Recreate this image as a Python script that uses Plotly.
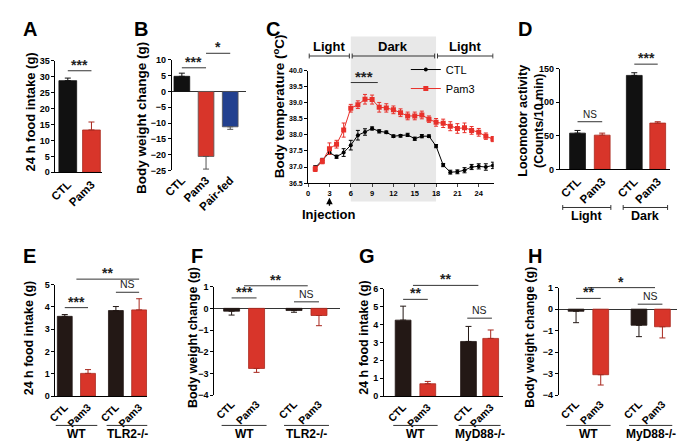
import plotly.graph_objects as go

W, H = 685, 441

# ---------------- DATA ----------------
# A: 24 h food intake (g)
a_groups = ["CTL", "Pam3"]
a_mean = [28.8, 13.3]
a_err = [0.8, 2.5]

# B: body weight change (g)
b_groups = ["CTL", "Pam3", "Pair-fed"]
b_mean = [4.8, -20.6, -11.2]
b_err = [1.0, 4.0, 0.8]

# C: body temperature (deg C) by hour
c_hours = list(range(1, 27))
c_ctl = [36.98, 37.2, 37.45, 37.32, 37.45, 37.68, 37.99, 38.09, 38.2, 38.11,
         38.08, 37.96, 37.97, 38.0, 37.88, 37.96, 37.96, 37.65, 37.06, 36.84,
         36.85, 36.9, 37.0, 37.02, 37.0, 37.05]
c_ctl_err = [0.06, 0.07, 0.06, 0.05, 0.12, 0.15, 0.15, 0.1, 0.05, 0.05,
             0.04, 0.04, 0.04, 0.05, 0.05, 0.05, 0.04, 0.05, 0.05, 0.06,
             0.06, 0.08, 0.08, 0.08, 0.1, 0.1]
c_pam3 = [36.94, 37.18, 37.57, 37.71, 38.15, 38.83, 38.94, 39.11, 39.1, 38.86,
          38.84, 38.78, 38.69, 38.59, 38.59, 38.62, 38.49, 38.39, 38.36, 38.27,
          38.2, 38.22, 38.14, 38.08, 37.96, 37.87]
c_pam3_err = [0.08, 0.08, 0.18, 0.12, 0.22, 0.12, 0.12, 0.15, 0.14, 0.15,
              0.13, 0.12, 0.12, 0.12, 0.12, 0.12, 0.1, 0.12, 0.13, 0.14,
              0.15, 0.15, 0.12, 0.12, 0.1, 0.08]

# D: locomotor activity (counts/10 min)
d_groups = ["CTL", "Pam3", "CTL", "Pam3"]
d_phase = ["Light", "Dark"]
d_mean = [54, 51, 140, 69]
d_err = [4, 3, 4, 2]

# E: 24 h food intake, WT vs TLR2-/-
e_groups = ["CTL", "Pam3", "CTL", "Pam3"]
e_geno = ["WT", "TLR2-/-"]
e_mean = [3.58, 1.02, 3.84, 3.87]
e_err = [0.08, 0.17, 0.18, 0.5]

# F: body weight change, WT vs TLR2-/-
f_groups = ["CTL", "Pam3", "CTL", "Pam3"]
f_geno = ["WT", "TLR2-/-"]
f_mean = [-0.13, -2.77, -0.1, -0.33]
f_err = [0.18, 0.18, 0.08, 0.47]

# G: 24 h food intake, WT vs MyD88-/-
g_groups = ["CTL", "Pam3", "CTL", "Pam3"]
g_geno = ["WT", "MyD88-/-"]
g_mean = [4.24, 0.69, 3.05, 3.22]
g_err = [0.78, 0.13, 0.84, 0.47]

# H: body weight change, WT vs MyD88-/-
h_groups = ["CTL", "Pam3", "CTL", "Pam3"]
h_geno = ["WT", "MyD88-/-"]
h_mean = [-0.1, -3.05, -0.75, -0.82]
h_err = [0.53, 0.48, 0.53, 0.52]

# ---------------- STYLE ----------------
FONT = "Liberation Sans, Arial, sans-serif"
BLACK = "#111111"
DARK = "#231815"
RED = "#d8352a"
REDL = "#a8281e"
BLUE = "#22408f"
CRED = "#e8302a"


def xd(l, r):
    return [l / W, r / W]


def yd(top, bot):
    return [1 - bot / H, 1 - top / H]


def pxx(x):
    return x / W


def pxy(y):
    return 1 - y / H


fig = go.Figure()
shapes = []
annotations = []


def ref(i):
    return ("x" if i == 1 else f"x{i}"), ("y" if i == 1 else f"y{i}")


def add_bars(i, pos, means, errs, colors, linecols, width):
    xr, yr = ref(i)
    for p, m, e, c, lc in zip(pos, means, errs, colors, linecols):
        fig.add_trace(go.Bar(
            x=[p], y=[m], width=width, marker=dict(color=c, line=dict(color=lc, width=0.8)),
            error_y=dict(type="data", symmetric=False,
                         array=[e if m >= 0 else 0], arrayminus=[e if m < 0 else 0],
                         color=lc, thickness=1, width=3),
            xaxis=xr, yaxis=yr, showlegend=False, hoverinfo="skip"))


def sig(i, rng, x0, x1, yv, text, size=14, weight="bold", yshift=-4):
    xr, yr = ref(i)
    frac = (yv - rng[0]) / (rng[1] - rng[0])
    shapes.append(dict(type="line", xref=xr, yref=yr + " domain", x0=x0, x1=x1,
                       y0=frac, y1=frac, line=dict(color="#333", width=1)))
    annotations.append(dict(xref=xr, yref=yr + " domain", x=(x0 + x1) / 2, y=frac,
                            text=text, showarrow=False, yanchor="bottom", yshift=yshift,
                            font=dict(size=size, family=FONT, weight=weight, color="#222")))


def ytitle(x, y, text, size=11):
    annotations.append(dict(xref="paper", yref="paper", x=pxx(x), y=pxy(y), text=text,
                            textangle=-90, showarrow=False, xanchor="center", yanchor="middle",
                            font=dict(size=size, family=FONT, weight="bold", color="black")))


def letter(x, y, t):
    annotations.append(dict(xref="paper", yref="paper", x=pxx(x), y=pxy(y), text=t,
                            showarrow=False, xanchor="left", yanchor="top",
                            font=dict(size=20, family=FONT, weight="bold", color="black")))


def group_line(i, x0, x1, ypx, label, ticks=False, lab_y=None, size=12):
    xr, yr = ref(i)
    shapes.append(dict(type="line", xref=xr, yref="paper", x0=x0, x1=x1,
                       y0=pxy(ypx), y1=pxy(ypx), line=dict(color="#333", width=1)))
    if ticks:
        for xx in (x0, x1):
            shapes.append(dict(type="line", xref=xr, yref="paper", x0=xx, x1=xx,
                               y0=pxy(ypx - 2.5), y1=pxy(ypx + 2.5), line=dict(color="#333", width=1)))
    annotations.append(dict(xref=xr, yref="paper", x=(x0 + x1) / 2,
                            y=pxy(lab_y if lab_y else ypx + 8), text=label, showarrow=False,
                            xanchor="center", yanchor="middle",
                            font=dict(size=size, family=FONT, weight="bold", color="black")))


yax_common = dict(showline=True, linecolor="black", linewidth=1, ticks="outside", ticklen=3,
                  tickwidth=1, tickcolor="black", showgrid=False, zeroline=False,
                  tickfont=dict(size=9, family=FONT, weight="bold", color="black"), fixedrange=True)
xax_bar = dict(showgrid=False, zeroline=False, ticks="", ticklen=0, tickangle=-45,
               tickfont=dict(size=11.5, family=FONT, weight="bold", color="black"), fixedrange=True)

layout_axes = {}

# ---------- Panel A ----------
a_pos = [0, 1]
a_rng = [0, 35]
add_bars(1, a_pos, a_mean, a_err, [BLACK, RED], [BLACK, REDL], 0.75)
layout_axes["xaxis"] = dict(xax_bar, domain=xd(39, 86), range=[-0.52, 1.44], anchor="y",
                            tickvals=a_pos, ticktext=a_groups, showline=True, linecolor="black")
layout_axes["yaxis"] = dict(yax_common, domain=yd(49, 163), range=a_rng, anchor="x",
                            tickvals=list(range(0, 36, 5)))
sig(1, a_rng, 0, 1, 31.9, "***")
ytitle(14, 101, "24 h food intake (g)", 13)
letter(4, 3, "A")

# ---------- Panel B ----------
b_pos = [0, 1, 2]
b_rng = [-25, 10]
add_bars(2, b_pos, b_mean, b_err, [BLACK, RED, BLUE], [BLACK, "#555", "#555"], 0.65)
layout_axes["xaxis2"] = dict(xax_bar, domain=xd(157, 232), range=[-0.41, 2.65], anchor="y2",
                             tickvals=b_pos, ticktext=b_groups, showline=False)
layout_axes["yaxis2"] = dict(yax_common, domain=yd(48, 161), range=b_rng, anchor="x2",
                             tickvals=list(range(-25, 11, 5)), zeroline=True,
                             zerolinecolor="#333", zerolinewidth=1)
sig(2, b_rng, 0, 1, 7.5, "***")
sig(2, b_rng, 1, 2, 12.1, "*")
ytitle(126, 107, "Body weight change (g)", 13.5)
letter(117, 3, "B")

# ---------- Panel C ----------
c_rng = [36.5, 40.0]
shapes.append(dict(type="rect", xref="x3", yref="paper", x0=6, x1=18, y0=pxy(193), y1=pxy(24),
                   fillcolor="#e8e8e8", line=dict(width=0), layer="below"))
fig.add_trace(go.Scatter(x=c_hours, y=c_ctl, mode="lines+markers", name="CTL",
                         line=dict(color="black", width=1), marker=dict(color="black", size=4),
                         error_y=dict(type="data", array=c_ctl_err, color="black", thickness=1, width=2),
                         xaxis="x3", yaxis="y3", hoverinfo="skip"))
fig.add_trace(go.Scatter(x=c_hours, y=c_pam3, mode="lines+markers", name="Pam3",
                         line=dict(color=CRED, width=1), marker=dict(color=CRED, size=5, symbol="square"),
                         error_y=dict(type="data", array=c_pam3_err, color=CRED, thickness=1, width=2),
                         xaxis="x3", yaxis="y3", hoverinfo="skip"))
layout_axes["xaxis3"] = dict(domain=xd(295, 483), range=[0, 26.1], anchor="y3", showline=True,
                             linecolor="black", linewidth=1, ticks="outside", ticklen=3,
                             tickvals=list(range(0, 25, 3)), showgrid=False, zeroline=False,
                             tickfont=dict(size=7.5, family=FONT, weight="bold", color="black"),
                             fixedrange=True)
layout_axes["yaxis3"] = dict(yax_common, domain=yd(59, 174), range=c_rng, anchor="x3",
                             tickvals=[36.5 + 0.5 * k for k in range(8)], tickformat=".1f",
                             tickfont=dict(size=7, family=FONT, weight="bold", color="black"))
sig(3, c_rng, 6, 9.8, 39.63, "***", size=15)
for x0, x1, lab in [(0.15, 5.8, "Light"), (6.2, 17.8, "Dark"), (18.2, 26.0, "Light")]:
    group_line(3, x0, x1, 44, lab, ticks=True, lab_y=34, size=13)
annotations.append(dict(xref="x3", yref="paper", x=3, y=pxy(189), ax=0, ay=17, text="Injection",
                        showarrow=True, arrowhead=2, arrowsize=1, arrowwidth=1.3, arrowcolor="black",
                        standoff=0, font=dict(size=13, family=FONT, weight="bold", color="black")))
ytitle(265, 96, "Body temperature (<sup>o</sup>C)", 13.5)
letter(250, 3, "C")

# ---------- Panel D ----------
d_pos = [0, 1, 2.3, 3.25]
d_rng = [0, 150]
add_bars(4, d_pos, d_mean, d_err, [BLACK, RED, BLACK, RED], [BLACK, REDL, BLACK, REDL], 0.64)
layout_axes["xaxis4"] = dict(xax_bar, domain=xd(550, 662), range=[-0.72, 3.76], anchor="y4",
                             tickvals=d_pos, ticktext=d_groups, showline=True, linecolor="black")
layout_axes["yaxis4"] = dict(yax_common, domain=yd(57, 160), range=d_rng, anchor="x4",
                             tickvals=[0, 50, 100, 150])
sig(4, d_rng, 0, 1, 71, "NS", size=10, weight="normal", yshift=0)
sig(4, d_rng, 2.3, 3.25, 156.8, "***")
group_line(4, -0.6, 1.35, 199, d_phase[0], ticks=True, lab_y=208, size=12.5)
group_line(4, 1.85, 3.65, 199, d_phase[1], ticks=True, lab_y=208, size=12.5)
annotations.append(dict(xref="paper", yref="paper", x=pxx(520), y=pxy(110),
                        text="Locomotor activity<br>(Counts/10 min)", textangle=-90,
                        showarrow=False, xanchor="center", yanchor="middle",
                        font=dict(size=12.5, family=FONT, weight="bold", color="black")))
letter(506, 3, "D")

# ---------- Bottom panels ----------
bottom = [
    (5, e_groups, e_geno, e_mean, e_err, [0, 1, 2.2, 3.2], [0, 5], (39, 132), (278, 392),
     [-0.4, 3.55], list(range(0, 6)), "E", 4, 13, "24 h food intake (g)"),
    (6, f_groups, f_geno, f_mean, f_err, [0, 1, 2.5, 3.5], [-4, 1], (200, 327), (280, 391),
     [-0.69, 4.33], list(range(-4, 2)), "F", 174, 179, "Body weight change (g)"),
    (7, g_groups, g_geno, g_mean, g_err, [0, 1, 2.65, 3.55], [0, 6], (372, 492), (282, 392),
     [-0.77, 4.03], list(range(0, 7)), "G", 345, 352, "24 h food intake (g)"),
    (8, h_groups, h_geno, h_mean, h_err, [0, 1, 2.55, 3.5], [-4, 1], (549, 683), (281, 391),
     [-0.7, 4.66], list(range(-4, 2)), "H", 516, 520, "Body weight change (g)"),
]
sig_specs = {
    5: [(0, 1, 3.97, "***"), (2.2, 3.2, 4.66, "NS"), (0.5, 3.2, 5.25, "**")],
    6: [(0, 1, 0.48, "***"), (2.5, 3.5, 0.3, "NS"), (0.5, 3.05, 1.04, "**")],
    7: [(0, 1, 5.4, "**"), (2.6, 3.6, 4.35, "NS"), (0.4, 3.05, 6.18, "**")],
    8: [(0, 1, 0.5, "**"), (2.5, 3.5, 0.23, "NS"), (0.47, 3.2, 1.0, "*")],
}
for (i, groups, geno, mean, err, pos, rng, xdm, ydm, xrng, tv, let, lx, tx, title) in bottom:
    neg = rng[0] < 0
    add_bars(i, pos, mean, err, [DARK, RED, DARK, RED], [DARK, REDL, DARK, REDL], 0.64)
    layout_axes[f"xaxis{i}"] = dict(xax_bar, domain=xd(*xdm), range=xrng, anchor=f"y{i}",
                                    tickvals=pos, ticktext=groups,
                                    tickfont=dict(size=10.5, family=FONT, weight="bold", color="black"),
                                    showline=not neg, linecolor="black")
    ya = dict(yax_common, domain=yd(*ydm), range=rng, anchor=f"x{i}", tickvals=tv)
    if neg:
        ya.update(zeroline=True, zerolinecolor="#333", zerolinewidth=1)
    layout_axes[f"yaxis{i}"] = ya
    for (x0, x1, yv, t) in sig_specs[i]:
        if t == "NS":
            sig(i, rng, x0, x1, yv, t, size=10.5, weight="normal", yshift=0)
        else:
            sig(i, rng, x0, x1, yv, t)
    group_line(i, pos[0] - 0.4, pos[1] + 0.4, 422, geno[0], lab_y=431)
    group_line(i, pos[2] - 0.4, pos[3] + 0.4, 422, geno[1], lab_y=431)
    ytitle(tx, 332, title, 12.5)
    letter(lx, 235, let)

fig.update_layout(
    width=W, height=H, margin=dict(l=0, r=0, t=0, b=0),
    paper_bgcolor="white", plot_bgcolor="rgba(0,0,0,0)",
    font=dict(family=FONT, color="black"),
    shapes=shapes, annotations=annotations, barmode="overlay",
    showlegend=True,
    legend=dict(x=pxx(394), y=pxy(43), xanchor="left", yanchor="top",
                bgcolor="rgba(0,0,0,0)", itemwidth=30, tracegroupgap=0,
                font=dict(size=11, family=FONT, color="black")),
    **layout_axes,
)

fig.write_html("out.html")
